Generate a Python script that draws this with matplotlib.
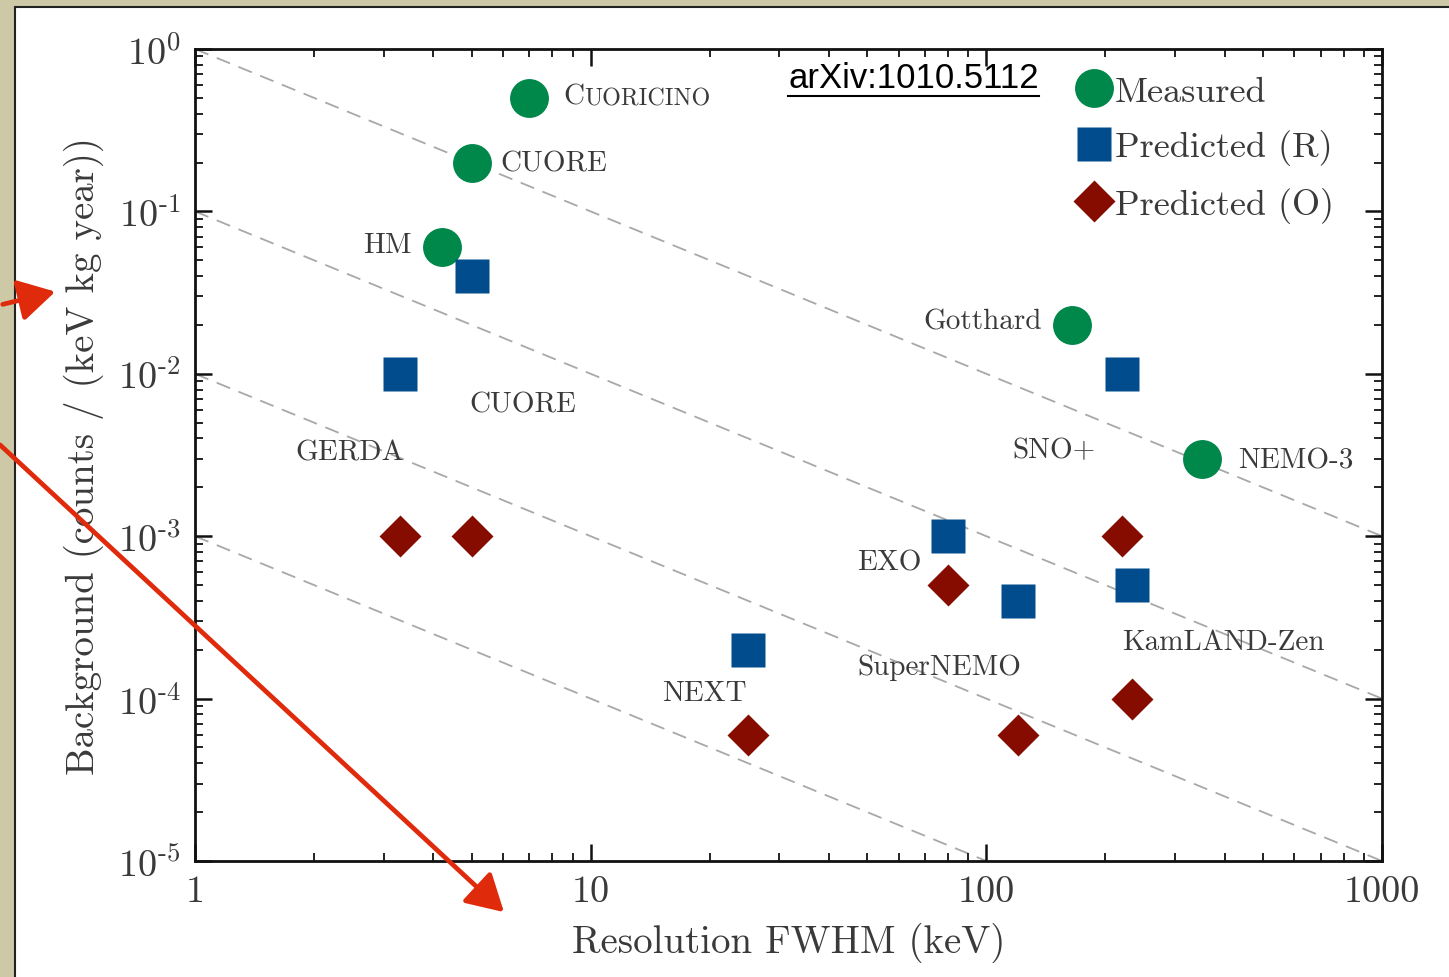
import matplotlib
matplotlib.use("Agg")
import numpy as np
import matplotlib.pyplot as plt
from matplotlib.patches import Rectangle, FancyArrowPatch
from matplotlib.lines import Line2D
from matplotlib.ticker import FixedLocator, FixedFormatter, LogLocator, NullFormatter

# values
measured_fwhm = [7.0, 5.0, 4.2, 165, 350]
measured_bkg = [0.5, 0.2, 0.06, 0.02, 0.003]

pred_r_fwhm = [5.0, 3.3, 25, 80, 120, 220, 233]
pred_r_bkg = [0.04, 0.01, 2e-4, 1e-3, 4e-4, 1e-2, 5e-4]

pred_o_fwhm = [3.3, 5.0, 25, 80, 120, 220, 233]
pred_o_bkg = [1e-3, 1e-3, 6e-5, 5e-4, 6e-5, 1e-3, 1e-4]

# dashed guides: background * FWHM = const
guide_norms = [1.0, 1e-1, 1e-2, 1e-3]

# experiment labels and where they sit (data coords)
label_names = ["CUORE", "HM", "Gotthard", "NEMO-3", "CUORE", "GERDA",
               "SNO+", "EXO", "KamLAND-Zen", "SuperNEMO", "NEXT"]
label_x = [5.9, 3.53, 138, 432, 4.95, 1.79, 116.7, 47.1, 220, 47.1, 15.2]
label_y = [0.199, 0.0621, 0.0211, 0.00294, 0.00652, 0.0033,
           0.0034, 6.9e-4, 2.23e-4, 1.57e-4, 1.08e-4]
label_ha = ["left", "right", "right", "left", "left", "left",
            "left", "left", "left", "left", "left"]

x_ticks = [1, 10, 100, 1000]
x_ticklabels = ["1", "10", "100", "1000"]
y_ticks = [1e-5, 1e-4, 1e-3, 1e-2, 1e-1, 1]
y_ticklabels = [r"$10^{\text{-}5}$", r"$10^{\text{-}4}$", r"$10^{\text{-}3}$",
                r"$10^{\text{-}2}$", r"$10^{\text{-}1}$", r"$10^{0}$"]

plt.rcParams["font.family"] = "serif"
plt.rcParams["font.serif"] = ["cmr10"]
plt.rcParams["mathtext.fontset"] = "cm"
plt.rcParams["axes.formatter.use_mathtext"] = True

W, H = 1449, 978
fig = plt.figure(figsize=(W / 100, H / 100), dpi=100)
fig.patch.set_facecolor("#cdc8a6")


def px(x, y):
    """pixel position (from top-left) -> figure fraction"""
    return x / W, 1 - y / H


# white slide panel, top-left corner at (15, 8) px
fig.add_artist(Rectangle(px(15, 1000), 1.2, (1000 - 8) / H, transform=fig.transFigure,
                         facecolor="white", edgecolor="#222222", lw=1.5, zorder=0))

l, b = px(195, 862)
r, t = px(1382, 50)
ax = fig.add_axes([l, b, r - l, t - b])
ax.set_facecolor("none")
ax.set_xscale("log")
ax.set_yscale("log")
ax.set_xlim(1, 1000)
ax.set_ylim(1e-5, 1)

green, blue, dred = "#00874a", "#004c8c", "#870c00"
txt_col = "#3a3a3a"

xs = np.array([1.0, 1000.0])
for k in guide_norms:
    ax.plot(xs, k / xs, color="#a8a8a8", lw=1.3, ls=(0, (8, 5)), zorder=1)

ax.plot(measured_fwhm, measured_bkg, "o", color=green, ms=28, mec="none",
        label="Measured", zorder=3)
ax.plot(pred_r_fwhm, pred_r_bkg, "s", color=blue, ms=25, mec="none",
        label="Predicted (R)", zorder=3)
ax.plot(pred_o_fwhm, pred_o_bkg, "D", color=dred, ms=21, mec="none",
        label="Predicted (O)", zorder=3)

for name, x, y, ha in zip(label_names, label_x, label_y, label_ha):
    ax.text(x, y, name, ha=ha, va="center", fontsize=21, color=txt_col, zorder=4)

# small-caps Cuoricino
c = ax.text(8.51, 0.513, "C", ha="left", va="center", fontsize=21, color=txt_col)
ax.annotate("UORICINO", xy=(1, 0), xycoords=c, va="bottom", ha="left",
            fontsize=17.3, color=txt_col)

ax.xaxis.set_major_locator(FixedLocator(x_ticks))
ax.xaxis.set_major_formatter(FixedFormatter(x_ticklabels))
ax.xaxis.set_minor_locator(LogLocator(base=10, subs=np.arange(2, 10)))
ax.xaxis.set_minor_formatter(NullFormatter())
ax.yaxis.set_major_locator(FixedLocator(y_ticks))
ax.yaxis.set_major_formatter(FixedFormatter(y_ticklabels))
ax.yaxis.set_minor_locator(LogLocator(base=10, subs=np.arange(2, 10)))
ax.yaxis.set_minor_formatter(NullFormatter())

ax.tick_params(which="both", direction="in", top=True, right=True,
               colors="#111111", labelcolor=txt_col, labelsize=27.5)
ax.tick_params(which="major", length=12, width=1.8, pad=10)
ax.tick_params(which="minor", length=6, width=1.3)
for s in ax.spines.values():
    s.set_linewidth(2.0)
    s.set_color("#111111")

ax.set_xlabel("Resolution FWHM (keV)", fontsize=28, color=txt_col, labelpad=10)
ax.set_ylabel("Background (counts / (keV kg year))", fontsize=28,
              color=txt_col, labelpad=10)

ax.legend(loc="upper left", bbox_to_anchor=((1061 - 195) / 1187, (862 - 62) / 812),
          frameon=False, numpoints=1, handlelength=1.0, handletextpad=0.1,
          labelspacing=0.6, borderaxespad=0, fontsize=26,
          labelcolor=txt_col)

arx = ax.text(0.4996, 0.965, "arXiv:1010.5112", transform=ax.transAxes,
              ha="left", va="center", fontsize=25, color="black",
              family="Liberation Sans")

# red arrows overlaid on the slide
for p0, p1 in [((0, 306), (58, 292)), ((-2, 444), (506, 915))]:
    fig.add_artist(FancyArrowPatch(px(*p0), px(*p1), transform=fig.transFigure,
                                   arrowstyle="-|>,head_length=14,head_width=8",
                                   mutation_scale=1.6, color="#e02a0c",
                                   lw=3.4, zorder=10))

# underline the arXiv tag
fig.canvas.draw()
bb = arx.get_window_extent()
fig.add_artist(Line2D([bb.x0 / W, bb.x1 / W], [(bb.y0 - 2) / H] * 2,
                      transform=fig.transFigure, color="black", lw=1.5))

fig.savefig("out.png", dpi=100, facecolor=fig.get_facecolor())
